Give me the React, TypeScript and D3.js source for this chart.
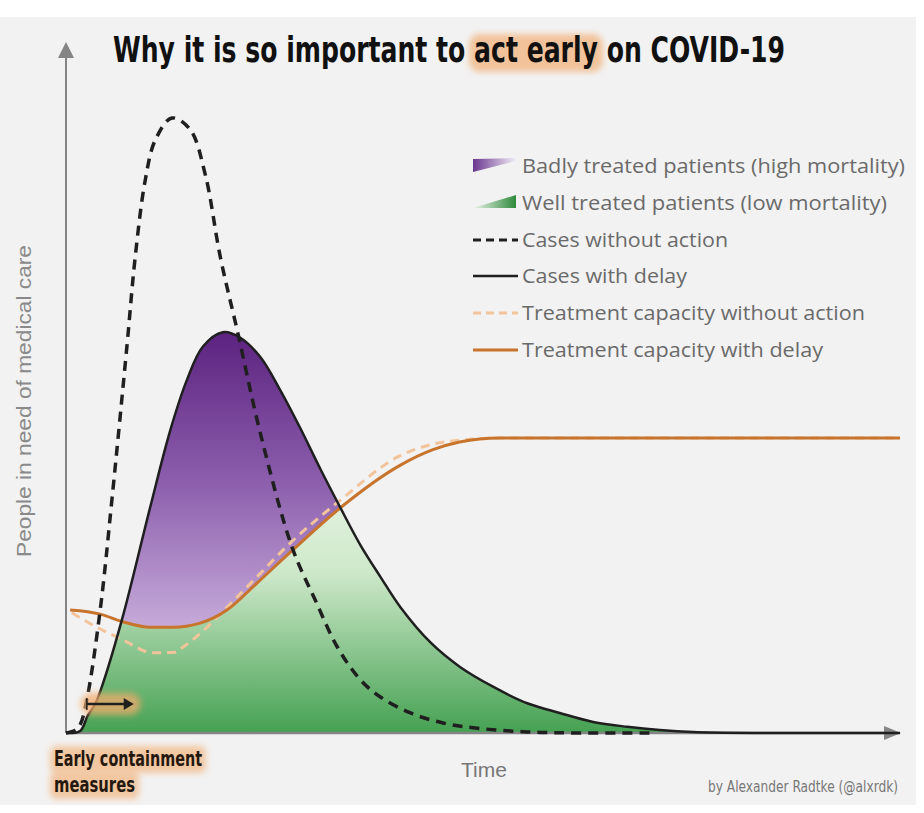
import React, { useEffect, useRef } from 'react';
import * as d3 from 'd3';

const titleParts = ['Why it is so important to ', 'act early', ' on COVID-19'];
const legendLabels = [
  'Badly treated patients (high mortality)',
  'Well treated patients (low mortality)',
  'Cases without action',
  'Cases with delay',
  'Treatment capacity without action',
  'Treatment capacity with delay',
];
const yLabel = 'People in need of medical care';
const xLabel = 'Time';
const credit = 'by Alexander Radtke (@alxrdk)';
const noteLines = ['Early containment', 'measures'];

// [time, people in need of care], both on a 0-100 scale
const casesWithoutAction = [
  [0, 0], [1.1, 0.4], [1.7, 1.2], [2.5, 4.8], [4.1, 17.8], [5.5, 33.7], [7.3, 55.9],
  [8.3, 68.9], [9.5, 80], [10.7, 85.8], [12.7, 89], [14.9, 87.3], [16.7, 80.8],
  [18.5, 68.9], [20.6, 57.9], [23.3, 43.4], [27.1, 26.9], [29.9, 19.2], [32.6, 12.3],
  [35.3, 7.7], [37.7, 5.2], [41.3, 2.9], [45.2, 1.45], [49.3, 0.7], [55.3, 0.15],
  [61.6, 0], [70, 0],
];
const casesWithDelay = [
  [0, 0], [1.7, 0.3], [2.6, 2.5], [3.5, 4.2], [4.3, 6.7], [6.8, 16.8], [10.1, 32.7],
  [12.5, 43.8], [14.5, 51.1], [16.4, 55.9], [18.8, 58], [20.9, 57.2], [23.3, 54.4],
  [25.7, 49.6], [28.1, 44.1], [30.5, 38.2], [32.9, 32.6], [35.3, 27.2], [37.7, 22.6],
  [40.1, 18.2], [43.7, 13.1], [47.2, 9.6], [51.2, 6.7], [55.3, 4.3], [59.2, 2.9],
  [63.2, 1.6], [67.3, 0.9], [71.2, 0.43], [75.2, 0.14], [83.2, 0], [100, 0],
];
const capacityWithoutAction = [
  [0.7, 17.4], [3.7, 15.3], [6.8, 13.5], [10.4, 11.6], [13.1, 11.7], [14, 12.4],
  [16.9, 15.3], [19.3, 18.2], [22.9, 22.6], [26.9, 27.5], [32.9, 33.7], [40, 40.1],
  [44, 41.8], [48.4, 42.5], [52, 42.7], [100, 42.7],
];
const capacityWithDelay = [
  [0.5, 17.8], [4.1, 17.2], [6.8, 16.1], [10.1, 15.3], [12.8, 15.3], [16.1, 15.9],
  [19.3, 17.8], [22.9, 21.7], [27.2, 26.5], [32.9, 32.6], [40, 38.7], [44, 41],
  [47.2, 42.1], [52, 42.7], [100, 42.7],
];

const narrow = "'Liberation Sans Narrow', 'Arial Narrow', 'DejaVu Sans Condensed', sans-serif";

const App = () => {
  const svgRef = useRef(null);

  useEffect(() => {
    const svg = d3.select(svgRef.current);
    svg.selectAll('*').remove();

    const x = d3.scaleLinear().domain([0, 100]).range([66, 900]);
    const y = d3.scaleLinear().domain([0, 100]).range([733, 42]);
    const axisColor = '#858585';
    const glowColor = '#f2aa6c';

    const defs = svg.append('defs');
    defs.append('filter').attr('id', 'blur').attr('x', '-30%').attr('y', '-60%')
      .attr('width', '160%').attr('height', '220%')
      .append('feGaussianBlur').attr('stdDeviation', 3);

    const purple = defs.append('linearGradient').attr('id', 'purpleGrad')
      .attr('gradientUnits', 'userSpaceOnUse')
      .attr('x1', 0).attr('y1', y(58)).attr('x2', 0).attr('y2', y(16));
    purple.append('stop').attr('offset', 0).attr('stop-color', '#5c2380');
    purple.append('stop').attr('offset', 0.5).attr('stop-color', '#8a5cab');
    purple.append('stop').attr('offset', 1).attr('stop-color', '#c4a8d8');

    const green = defs.append('linearGradient').attr('id', 'greenGrad')
      .attr('gradientUnits', 'userSpaceOnUse')
      .attr('x1', 0).attr('y1', y(42)).attr('x2', 0).attr('y2', y(0));
    green.append('stop').attr('offset', 0).attr('stop-color', '#f2f9f0');
    green.append('stop').attr('offset', 0.45).attr('stop-color', '#cde8c9');
    green.append('stop').attr('offset', 1).attr('stop-color', '#45a152');

    const lgPurple = defs.append('linearGradient').attr('id', 'lgPurple');
    lgPurple.append('stop').attr('offset', 0).attr('stop-color', '#6a3690');
    lgPurple.append('stop').attr('offset', 1).attr('stop-color', '#f2eef5');
    const lgGreen = defs.append('linearGradient').attr('id', 'lgGreen');
    lgGreen.append('stop').attr('offset', 0).attr('stop-color', '#eaf5e8');
    lgGreen.append('stop').attr('offset', 1).attr('stop-color', '#2e8a3c');

    // panel background
    svg.append('rect').attr('x', 0).attr('y', 17).attr('width', 916).attr('height', 788)
      .attr('fill', '#f2f2f2');

    const smooth = d3.curveCatmullRom.alpha(0.5);
    const mono = d3.curveMonotoneX;
    const line = (c) => d3.line().x(d => x(d[0])).y(d => y(d[1])).curve(c);
    const areaUnder = d3.area().x(d => x(d[0])).y0(y(0)).y1(d => y(d[1])).curve(smooth);
    const areaAbove = d3.area().x(d => x(d[0])).y0(d => y(d[1])).y1(0).curve(mono);

    defs.append('clipPath').attr('id', 'delayClip')
      .append('path').attr('d', areaUnder(casesWithDelay));

    // well treated (green) and badly treated (purple) areas
    svg.append('path').attr('d', areaUnder(casesWithDelay)).attr('fill', 'url(#greenGrad)');
    svg.append('path').attr('d', areaAbove(capacityWithDelay))
      .attr('fill', 'url(#purpleGrad)').attr('clip-path', 'url(#delayClip)');

    // axes
    svg.append('line').attr('x1', x(0)).attr('x2', x(0)).attr('y1', y(0)).attr('y2', 56)
      .attr('stroke', axisColor).attr('stroke-width', 2);
    svg.append('path').attr('d', `M${x(0) - 8},58 L${x(0)},42 L${x(0) + 8},58 Z`)
      .attr('fill', axisColor);
    svg.append('line').attr('x1', x(0)).attr('x2', 886).attr('y1', y(0)).attr('y2', y(0))
      .attr('stroke', axisColor).attr('stroke-width', 2.5);
    svg.append('path').attr('d', `M884,${y(0) - 7} L901,${y(0)} L884,${y(0) + 7} Z`)
      .attr('fill', axisColor);

    // curves
    svg.append('path').attr('d', line(mono)(capacityWithoutAction)).attr('fill', 'none')
      .attr('stroke', '#f2c49b').attr('stroke-width', 3).attr('stroke-dasharray', '9,6');
    svg.append('path').attr('d', line(mono)(capacityWithDelay)).attr('fill', 'none')
      .attr('stroke', '#c8742d').attr('stroke-width', 3);
    svg.append('path').attr('d', line(smooth)(casesWithDelay)).attr('fill', 'none')
      .attr('stroke', '#1f1f1f').attr('stroke-width', 2.5);
    svg.append('path').attr('d', line(smooth)(casesWithoutAction)).attr('fill', 'none')
      .attr('stroke', '#1f1f1f').attr('stroke-width', 3.5).attr('stroke-dasharray', '10,7');

    // title, with a glow behind "act early"
    const titleGlow = svg.append('g');
    const title = svg.append('text').attr('transform', 'translate(113,62) scale(1,1.1)')
      .style('font-family', narrow).style('font-stretch', 'condensed')
      .style('font-weight', 'bold').style('font-size', '32px')
      .attr('textLength', 672).attr('lengthAdjust', 'spacingAndGlyphs')
      .attr('fill', '#111')
      .text(titleParts.join(''));
    const tNode = title.node();
    const i0 = titleParts[0].length;
    const i1 = i0 + titleParts[1].length - 1;
    const s0 = 113 + tNode.getStartPositionOfChar(i0).x;
    const s1 = 113 + tNode.getEndPositionOfChar(i1).x;
    titleGlow.append('rect').attr('x', s0 - 5).attr('y', 34).attr('width', s1 - s0 + 10)
      .attr('height', 38).attr('rx', 10).attr('fill', glowColor).attr('opacity', 0.65)
      .attr('filter', 'url(#blur)');

    // legend
    const lg = svg.append('g');
    const rowY = [166, 203, 240, 276, 313, 350];
    const labelWidths = [383, 365, 206, 165, 343, 301];
    lg.append('path').attr('d', `M473,${rowY[0] - 7} L516,${rowY[0] - 8} L516,${rowY[0] - 5} L473,${rowY[0] + 6} Z`)
      .attr('fill', 'url(#lgPurple)');
    lg.append('path').attr('d', `M473,${rowY[1] + 5} L516,${rowY[1] - 8} L516,${rowY[1] + 5} Z`)
      .attr('fill', 'url(#lgGreen)');
    const lineStyles = [
      { color: '#1f1f1f', w: 3, dash: '8,5' },
      { color: '#1f1f1f', w: 2.5, dash: null },
      { color: '#f2c49b', w: 3, dash: '8,5' },
      { color: '#c8742d', w: 3, dash: null },
    ];
    lineStyles.forEach((s, i) => {
      lg.append('line').attr('x1', 473).attr('x2', 518)
        .attr('y1', rowY[i + 2]).attr('y2', rowY[i + 2])
        .attr('stroke', s.color).attr('stroke-width', s.w)
        .attr('stroke-dasharray', s.dash);
    });
    lg.selectAll('text.lbl').data(legendLabels).enter().append('text')
      .attr('class', 'lbl')
      .attr('x', 522).attr('y', (_, i) => rowY[i] + 7)
      .style('font-family', "'Open Sans', sans-serif").style('font-size', '20px')
      .attr('textLength', (_, i) => labelWidths[i]).attr('lengthAdjust', 'spacingAndGlyphs')
      .attr('fill', '#6a6a6a')
      .text(d => d);

    // axis labels
    svg.append('text').attr('transform', 'translate(31,401) rotate(-90)')
      .attr('text-anchor', 'middle')
      .style('font-family', "'Liberation Sans', Arial, sans-serif").style('font-size', '21px')
      .attr('textLength', 312).attr('lengthAdjust', 'spacingAndGlyphs')
      .attr('fill', '#8a8a8a').text(yLabel);
    svg.append('text').attr('x', 461).attr('y', 777)
      .style('font-family', "'Liberation Sans', Arial, sans-serif").style('font-size', '21px')
      .attr('fill', '#777').text(xLabel);
    svg.append('text').attr('x', 708).attr('y', 792)
      .style('font-family', narrow).style('font-stretch', 'condensed').style('font-size', '15px')
      .attr('textLength', 190).attr('lengthAdjust', 'spacingAndGlyphs')
      .attr('fill', '#777').text(credit);

    // early containment annotation
    const ax0 = x(2.5), ax1 = x(8);
    svg.append('rect').attr('x', ax0 - 6).attr('y', 693).attr('width', ax1 - ax0 + 14)
      .attr('height', 22).attr('rx', 11).attr('fill', glowColor).attr('opacity', 0.75)
      .attr('filter', 'url(#blur)');
    svg.append('line').attr('x1', ax0).attr('x2', ax1 - 6).attr('y1', 704).attr('y2', 704)
      .attr('stroke', '#1f1f1f').attr('stroke-width', 2.5);
    svg.append('line').attr('x1', ax0).attr('x2', ax0).attr('y1', 698).attr('y2', 710)
      .attr('stroke', '#1f1f1f').attr('stroke-width', 1.5);
    svg.append('path').attr('d', `M${ax1 - 9},698 L${ax1 + 1},704 L${ax1 - 9},710 Z`)
      .attr('fill', '#1f1f1f');

    const noteWidths = [148, 81];
    const noteGlow = svg.append('g');
    noteLines.forEach((l, i) => {
      const baseline = 766 + i * 26;
      noteGlow.append('rect').attr('x', 50).attr('y', baseline - 20)
        .attr('width', noteWidths[i] + 8).attr('height', 27).attr('rx', 6)
        .attr('fill', glowColor).attr('opacity', 0.6).attr('filter', 'url(#blur)');
      svg.append('text').attr('x', 54).attr('y', baseline)
        .style('font-family', narrow).style('font-stretch', 'condensed')
        .style('font-weight', 'bold').style('font-size', '22px')
        .attr('textLength', noteWidths[i]).attr('lengthAdjust', 'spacingAndGlyphs')
        .attr('fill', '#24180e')
        .text(l);
    });
  }, []);

  return (
    <svg ref={svgRef} width={924} height={813}
      style={{ position: 'absolute', left: 0, top: 0, background: '#fff' }} />
  );
};

export default App;
